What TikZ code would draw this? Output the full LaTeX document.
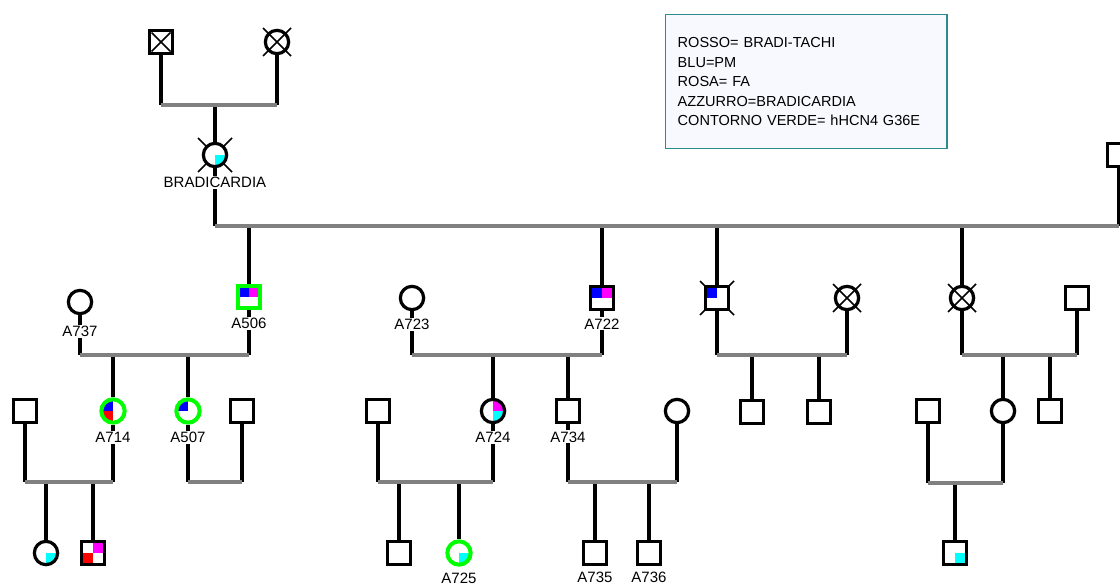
\documentclass[tikz,border=0pt]{standalone}
\usepackage{fontspec}
\setmainfont{Liberation Sans}
\usetikzlibrary{positioning,backgrounds}
\definecolor{pdBlue}{HTML}{0000FF}
\definecolor{pdMagenta}{HTML}{FF00FF}
\definecolor{pdRed}{HTML}{FF0000}
\definecolor{pdCyan}{HTML}{00FFFF}
\definecolor{pdGreen}{HTML}{00FF00}
\definecolor{pdGray}{HTML}{808080}
\definecolor{pdTeal}{HTML}{2E8B8B}
\definecolor{pdKeyBg}{HTML}{F8F8FF}
\tikzset{
  pd-man/.style={
    rectangle, draw=black, line width=2.4pt, fill=white,
    minimum size=17pt, inner sep=0pt
  },
  pd-woman/.style={
    circle, draw=black, line width=2.4pt, fill=white,
    minimum size=17.5pt, inner sep=0pt
  },
  pd-green/.style={draw=pdGreen, line width=3pt},
  pd-quad/.style n args={4}{path picture={
    \fill[#1] (path picture bounding box.center) rectangle (path picture bounding box.north west);
    \fill[#2] (path picture bounding box.center) rectangle (path picture bounding box.north east);
    \fill[#3] (path picture bounding box.center) rectangle (path picture bounding box.south west);
    \fill[#4] (path picture bounding box.center) rectangle (path picture bounding box.south east);
  }},
  pd-line/.style={line width=2.4pt, draw=black},
  pd-union/.style={line width=2.8pt, draw=pdGray},
  pd-dead/.style={line width=1.2pt, draw=black},
  pd-label/.style={font=\fontsize{11.25}{13}\selectfont, fill=white, inner sep=1pt},
  pd-key/.style={
    draw=pdTeal, line width=1.1pt, fill=pdKeyBg, align=left,
    font=\fontsize{10.9}{14.6}\selectfont, text width=193pt,
    inner xsep=9pt, minimum height=100.5pt
  }
}

\begin{document}
\begin{tikzpicture}[x=0.75pt, y=-0.75pt]
\useasboundingbox (0,0) rectangle (1120,585);

% first generation
\node[pd-man] (gf) at (161,42) {};
\node[pd-woman] (gm) at (277,42) {};
\coordinate (m0) at (215,105);
\node[pd-woman, pd-quad={white}{white}{white}{pdCyan}] (p0) at (215,155) {};
\node[pd-label, below=5.5pt of p0] (p0l) {BRADICARDIA};
\node[pd-man] (sp0) at (1119,155) {};
\coordinate (m1) at (215,226);

% second generation
\node[pd-woman] (a737) at (80,302) {};
\node[pd-label, below=7pt of a737] (a737l) {A737};
\node[pd-man, pd-green, pd-quad={pdBlue}{pdMagenta}{white}{white}] (a506) at (249,297) {};
\node[pd-label, below=4.5pt of a506] (a506l) {A506};
\node[pd-woman] (a723) at (412,298) {};
\node[pd-label, below=4.5pt of a723] (a723l) {A723};
\node[pd-man, pd-quad={pdBlue}{pdMagenta}{white}{white}] (a722) at (602,298) {};
\node[pd-label, below=4.5pt of a722] (a722l) {A722};
\node[pd-man, pd-quad={pdBlue}{white}{white}{white}] (b3) at (717,298) {};
\node[pd-woman] (s3) at (847,298) {};
\node[pd-woman] (b4) at (962,298) {};
\node[pd-man] (s4) at (1077,298) {};
\coordinate (m2) at (165,355);
\coordinate (m5) at (500,355);
\coordinate (m8) at (780,355);
\coordinate (m9) at (1020,355);

% third generation
\node[pd-man] (s714) at (25,411) {};
\node[pd-woman, pd-green, pd-quad={pdBlue}{white}{pdRed}{white}] (a714) at (113,411) {};
\node[pd-label, below=4.5pt of a714] (a714l) {A714};
\node[pd-woman, pd-green, pd-quad={pdBlue}{white}{white}{white}] (a507) at (188,411) {};
\node[pd-label, below=4.5pt of a507] (a507l) {A507};
\node[pd-man] (s507) at (242,411) {};
\node[pd-man] (s724) at (378,411) {};
\node[pd-woman, pd-quad={white}{pdMagenta}{white}{pdCyan}] (a724) at (493,411) {};
\node[pd-label, below=4.5pt of a724] (a724l) {A724};
\node[pd-man] (a734) at (568,411) {};
\node[pd-label, below=4.5pt of a734] (a734l) {A734};
\node[pd-woman] (s734) at (677,411) {};
\node[pd-man] (c3a) at (752,412) {};
\node[pd-man] (c3b) at (819,412) {};
\node[pd-man] (s4a) at (928,411) {};
\node[pd-woman] (c4a) at (1003,411) {};
\node[pd-man] (c4b) at (1050,411) {};
\coordinate (m3) at (70,482);
\coordinate (m4) at (215,482);
\coordinate (m6) at (430,482);
\coordinate (m7) at (620,482);
\coordinate (m10) at (960,483);

% fourth generation
\node[pd-woman, pd-quad={white}{white}{white}{pdCyan}] (c714a) at (46,553) {};
\node[pd-man, pd-quad={white}{pdMagenta}{pdRed}{white}] (c714b) at (93,553) {};
\node[pd-man] (c724a) at (399,553) {};
\node[pd-woman, pd-green, pd-quad={white}{white}{white}{pdCyan}] (a725) at (459,553) {};
\node[pd-label, below=3.5pt of a725] (a725l) {A725};
\node[pd-man] (a735) at (595,553) {};
\node[pd-label, below=3.5pt of a735] (a735l) {A735};
\node[pd-man] (a736) at (649,553) {};
\node[pd-label, below=3.5pt of a736] (a736l) {A736};
\node[pd-man, pd-quad={white}{white}{white}{pdCyan}] (c4c) at (955,553) {};

% legend
\node[pd-key, anchor=north west] (key) at (665,14)
  {ROSSO= BRADI-TACHI\\
   BLU=PM\\
   ROSA= FA\\
   AZZURRO=BRADICARDIA\\
   CONTORNO VERDE= hHCN4 G36E};

% deceased marks on top
\draw[pd-dead] ([shift={(-9.5,-9.5)}]gf.center) -- ([shift={(9.5,9.5)}]gf.center)
  ([shift={(9.5,-9.5)}]gf.center) -- ([shift={(-9.5,9.5)}]gf.center);
\foreach \p in {gm,s3,b4}
  \draw[pd-dead] ([shift={(-14,-14)}]\p.center) -- ([shift={(14,14)}]\p.center)
    ([shift={(14,-14)}]\p.center) -- ([shift={(-14,14)}]\p.center);

\begin{scope}[on background layer]
% deceased marks behind the symbol
\foreach \p in {p0,b3}
  \draw[pd-dead] ([shift={(-17,-17)}]\p.center) -- ([shift={(17,17)}]\p.center)
    ([shift={(17,-17)}]\p.center) -- ([shift={(-17,17)}]\p.center);

% lines of descent
\draw[pd-line] (gf) -- (gf |- m0) (gm) -- (gm |- m0) (m0) -- (p0);
\draw[pd-line] (p0) -- (p0 |- m1) (sp0) -- (sp0 |- m1);
\foreach \c in {a506,a722,b3,b4}
  \draw[pd-line] (\c) -- (\c |- m1);
\draw[pd-line] (a737) -- (a737 |- m2) (a506) -- (a506 |- m2);
\draw[pd-line] (a714) -- (a714 |- m2) (a507) -- (a507 |- m2);
\draw[pd-line] (a723) -- (a723 |- m5) (a722) -- (a722 |- m5);
\draw[pd-line] (a724) -- (a724 |- m5) (a734) -- (a734 |- m5);
\draw[pd-line] (b3) -- (b3 |- m8) (s3) -- (s3 |- m8);
\draw[pd-line] (c3a) -- (c3a |- m8) (c3b) -- (c3b |- m8);
\draw[pd-line] (b4) -- (b4 |- m9) (s4) -- (s4 |- m9);
\draw[pd-line] (c4a) -- (c4a |- m9) (c4b) -- (c4b |- m9);
\draw[pd-line] (s714) -- (s714 |- m3) (a714) -- (a714 |- m3);
\draw[pd-line] (c714a) -- (c714a |- m3) (c714b) -- (c714b |- m3);
\draw[pd-line] (a507) -- (a507 |- m4) (s507) -- (s507 |- m4);
\draw[pd-line] (s724) -- (s724 |- m6) (a724) -- (a724 |- m6);
\draw[pd-line] (c724a) -- (c724a |- m6) (a725) -- (a725 |- m6);
\draw[pd-line] (a734) -- (a734 |- m7) (s734) -- (s734 |- m7);
\draw[pd-line] (a735) -- (a735 |- m7) (a736) -- (a736 |- m7);
\draw[pd-line] (s4a) -- (s4a |- m10) (c4a) -- (c4a |- m10);
\draw[pd-line] (c4c) -- (c4c |- m10);

% unions
\draw[pd-union] (gf |- m0) -- (gm |- m0);
\draw[pd-union] (p0 |- m1) -- (sp0 |- m1);
\draw[pd-union] (a737 |- m2) -- (a506 |- m2);
\draw[pd-union] (a723 |- m5) -- (a722 |- m5);
\draw[pd-union] (b3 |- m8) -- (s3 |- m8);
\draw[pd-union] (b4 |- m9) -- (s4 |- m9);
\draw[pd-union] (s714 |- m3) -- (a714 |- m3);
\draw[pd-union] (a507 |- m4) -- (s507 |- m4);
\draw[pd-union] (s724 |- m6) -- (a724 |- m6);
\draw[pd-union] (a734 |- m7) -- (s734 |- m7);
\draw[pd-union] (s4a |- m10) -- (c4a |- m10);
\end{scope}
\end{tikzpicture}
\end{document}
